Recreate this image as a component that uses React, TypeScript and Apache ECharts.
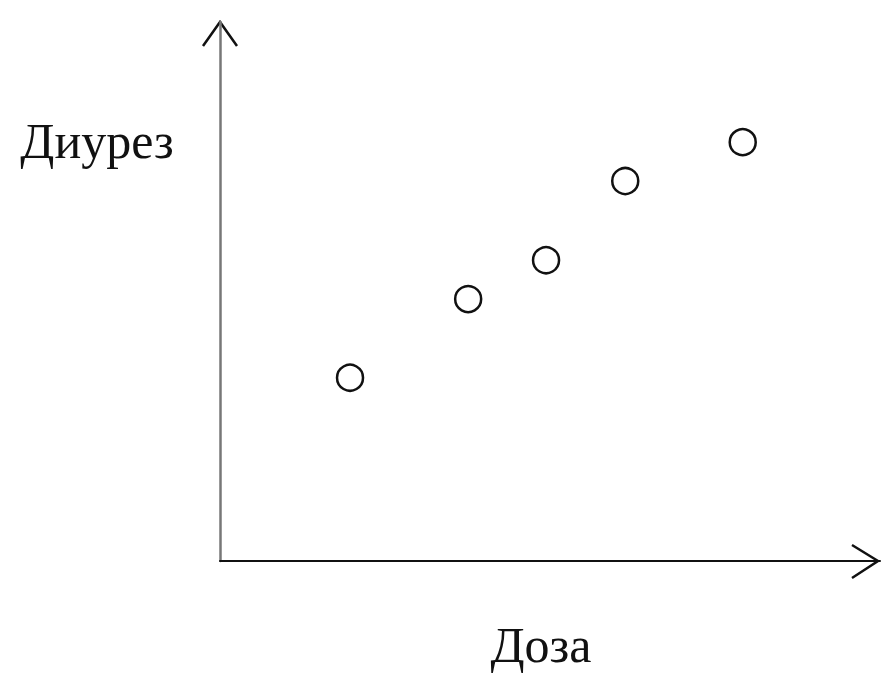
import React, { useEffect, useRef } from "react";
import * as echarts from "echarts";

const doses = [19.7, 37.6, 49.4, 61.4, 79.2];
const diuresis = [34.0, 48.6, 55.8, 70.5, 77.7];
const xAxisTitle = "Доза";
const yAxisTitle = "Диурез";

export default function App() {
  const ref = useRef<HTMLDivElement>(null);
  useEffect(() => {
    if (!ref.current) return;
    const chart = echarts.init(ref.current, null, { renderer: "svg" });
    const data = doses.map((d, i) => [d, diuresis[i]]);
    const axisCommon = {
      type: "value" as const,
      min: 0,
      max: 100,
      axisTick: { show: false },
      axisLabel: { show: false },
      splitLine: { show: false },
    };
    const textStyle = {
      fontFamily: "Liberation Serif",
      fontSize: 50,
      fill: "#111",
      align: "center",
      verticalAlign: "middle",
    };
    chart.setOption({
      animation: false,
      backgroundColor: "#ffffff",
      grid: { left: 220, top: 22, width: 660, height: 539 },
      xAxis: {
        ...axisCommon,
        axisLine: { show: true, onZero: false, lineStyle: { color: "#111", width: 2 } },
      },
      yAxis: {
        ...axisCommon,
        axisLine: { show: true, onZero: false, lineStyle: { color: "#777", width: 2.5 } },
      },
      graphic: [
        {
          type: "polyline",
          shape: { points: [[203, 46], [220, 22], [237, 46]] },
          style: { stroke: "#111", lineWidth: 2.5, fill: null },
        },
        {
          type: "polyline",
          shape: { points: [[852, 545], [878, 561], [852, 578]] },
          style: { stroke: "#111", lineWidth: 2.5, fill: null },
        },
        {
          type: "text",
          x: 97,
          y: 141,
          style: { ...textStyle, text: yAxisTitle },
        },
        {
          type: "text",
          x: 541,
          y: 645,
          style: { ...textStyle, text: xAxisTitle },
        },
      ],
      series: [
        {
          type: "scatter",
          data,
          symbol: "circle",
          symbolSize: 26,
          itemStyle: { color: "#ffffff", borderColor: "#111", borderWidth: 2.5, opacity: 1 },
        },
      ],
    });
    return () => chart.dispose();
  }, []);
  return (
    <div
      ref={ref}
      style={{ position: "absolute", left: 0, top: 0, width: 884, height: 685 }}
    />
  );
}
